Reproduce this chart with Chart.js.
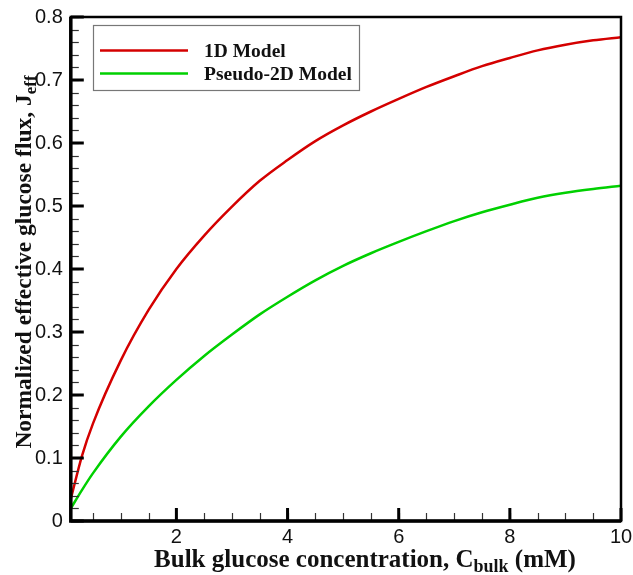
<!DOCTYPE html>
<html>
<head>
<meta charset="utf-8">
<script src="https://cdn.jsdelivr.net/npm/chart.js@4"></script>
<style>
  html, body { margin: 0; padding: 0; background: #fff; }
  #wrap { width: 633px; height: 575px; position: relative; }
</style>
</head>
<body>
<div id="wrap"><canvas id="fluxChart"></canvas></div>
<script>
const concentration = [0.1, 0.3, 0.5, 1, 1.5, 2, 2.5, 3, 3.5, 4, 4.5, 5, 5.5, 6, 6.5, 7, 7.5, 8, 8.5, 9, 9.5, 10];
const model1D = [0.035, 0.103, 0.155, 0.255, 0.335, 0.40, 0.453, 0.499, 0.54, 0.573, 0.603, 0.628, 0.650, 0.670, 0.689, 0.706, 0.722, 0.735, 0.747, 0.756, 0.763, 0.768];
const pseudo2D = [0.02, 0.049, 0.076, 0.134, 0.182, 0.224, 0.262, 0.296, 0.328, 0.356, 0.382, 0.405, 0.425, 0.443, 0.460, 0.476, 0.490, 0.502, 0.513, 0.521, 0.527, 0.532];
const seriesNames = ['1D Model', 'Pseudo-2D Model'];
const xTicks = [2, 4, 6, 8, 10];
const yTicks = [0, 0.1, 0.2, 0.3, 0.4, 0.5, 0.6, 0.7, 0.8];

const serif = '"Liberation Serif", "Times New Roman", serif';
const sans = '"Liberation Sans", Arial, sans-serif';

// ticks inside the frame, frame box, legend box and axis titles with subscripts
const decorations = {
  id: 'decorations',
  afterDraw(chart) {
    const { ctx, chartArea: a, scales: { x, y } } = chart;
    ctx.save();

    // minor ticks
    ctx.lineWidth = 1.2;
    ctx.strokeStyle = '#333';
    for (let v = 0; v <= 0.8001; v += 0.02) {
      const py = Math.round(y.getPixelForValue(v)) + 0.5;
      ctx.beginPath(); ctx.moveTo(a.left, py); ctx.lineTo(a.left + 8, py); ctx.stroke();
    }
    for (let v = 0.5; v < 10; v += 0.5) {
      const px = Math.round(x.getPixelForValue(v)) + 0.5;
      ctx.beginPath(); ctx.moveTo(px, a.bottom); ctx.lineTo(px, a.bottom - 8); ctx.stroke();
    }
    // major ticks
    ctx.strokeStyle = '#000';
    ctx.lineWidth = 3;
    yTicks.forEach(v => {
      const py = y.getPixelForValue(v);
      ctx.beginPath(); ctx.moveTo(a.left, py); ctx.lineTo(a.left + 13, py); ctx.stroke();
    });
    xTicks.forEach(v => {
      const px = x.getPixelForValue(v);
      ctx.beginPath(); ctx.moveTo(px, a.bottom); ctx.lineTo(px, a.bottom - 13); ctx.stroke();
    });

    // frame
    ctx.lineWidth = 2.5;
    ctx.strokeRect(a.left, a.top, a.right - a.left, a.bottom - a.top);
    ctx.lineWidth = 3.5;
    ctx.beginPath();
    ctx.moveTo(a.left, a.top); ctx.lineTo(a.left, a.bottom); ctx.lineTo(a.right, a.bottom);
    ctx.stroke();

    // legend
    const lx = 93, ly = 25, lw = 266, lh = 65;
    ctx.fillStyle = '#fff';
    ctx.fillRect(lx, ly, lw, lh);
    ctx.strokeStyle = '#777';
    ctx.lineWidth = 1.2;
    ctx.strokeRect(lx + 0.5, ly + 0.5, lw, lh);
    ctx.font = 'bold 19.5px ' + serif;
    ctx.textBaseline = 'middle';
    ctx.textAlign = 'left';
    chart.data.datasets.forEach((ds, i) => {
      const yy = 50.5 + i * 23;
      ctx.strokeStyle = ds.borderColor;
      ctx.lineWidth = 2.5;
      ctx.beginPath(); ctx.moveTo(100, yy); ctx.lineTo(188, yy); ctx.stroke();
      ctx.fillStyle = '#111';
      ctx.fillText(ds.label, 204, yy + 1);
    });

    // x title
    ctx.fillStyle = '#111';
    ctx.textBaseline = 'alphabetic';
    const mainX = 'Bulk glucose concentration, C';
    ctx.font = 'bold 25px ' + serif;
    const w1 = ctx.measureText(mainX).width;
    ctx.font = 'bold 18px ' + serif;
    const w2 = ctx.measureText('bulk').width;
    ctx.font = 'bold 25px ' + serif;
    const w3 = ctx.measureText(' (mM)').width;
    let sx = 365 - (w1 + w2 + w3) / 2;
    const by = 567;
    ctx.fillText(mainX, sx, by);
    ctx.font = 'bold 18px ' + serif;
    ctx.fillText('bulk', sx + w1, by + 5);
    ctx.font = 'bold 25px ' + serif;
    ctx.fillText(' (mM)', sx + w1 + w2, by);

    // y title
    ctx.translate(31, 262);
    ctx.rotate(-Math.PI / 2);
    const mainY = 'Normalized effective glucose flux, J';
    ctx.font = 'bold 23.5px ' + serif;
    const v1 = ctx.measureText(mainY).width;
    ctx.font = 'bold 17px ' + serif;
    const v2 = ctx.measureText('eff').width;
    sx = -(v1 + v2) / 2;
    ctx.font = 'bold 23.5px ' + serif;
    ctx.fillText(mainY, sx, 0);
    ctx.font = 'bold 17px ' + serif;
    ctx.fillText('eff', sx + v1, 5);
    ctx.restore();
  }
};

const ctx = document.getElementById('fluxChart');

const data = {
  datasets: [
    {
      label: seriesNames[0],
      data: concentration.map((c, i) => ({ x: c, y: model1D[i] })),
      borderColor: '#d40000',
      borderWidth: 2.5,
      pointRadius: 0,
      cubicInterpolationMode: 'monotone',
      fill: false
    },
    {
      label: seriesNames[1],
      data: concentration.map((c, i) => ({ x: c, y: pseudo2D[i] })),
      borderColor: '#00d000',
      borderWidth: 2.5,
      pointRadius: 0,
      cubicInterpolationMode: 'monotone',
      fill: false
    }
  ]
};

new Chart(ctx, {
  type: 'line',
  data: data,
  options: {
    responsive: true,
    maintainAspectRatio: false,
    animation: false,
    layout: { padding: { left: 27, right: 0, top: 17, bottom: 22 } },
    plugins: {
      legend: { display: false },
      tooltip: { enabled: false }
    },
    scales: {
      x: {
        type: 'linear',
        min: 0.1,
        max: 10,
        afterBuildTicks: s => { s.ticks = xTicks.map(v => ({ value: v })); },
        afterFit: s => { s.paddingRight = 12; },
        grid: { display: false, drawTicks: false },
        border: { display: false },
        ticks: {
          padding: 4,
          color: '#111',
          font: { family: sans, size: 20 },
          maxRotation: 0,
          callback: v => String(v)
        }
      },
      y: {
        min: 0,
        max: 0.8,
        afterBuildTicks: s => { s.ticks = yTicks.map(v => ({ value: v })); },
        afterFit: s => { s.paddingTop = 0; s.paddingBottom = 0; },
        grid: { display: false, drawTicks: false },
        border: { display: false },
        ticks: {
          padding: 8,
          color: '#111',
          font: { family: sans, size: 20 },
          callback: v => (v === 0 ? '0' : v.toFixed(1))
        }
      }
    }
  },
  plugins: [decorations]
});
</script>
</body>
</html>
